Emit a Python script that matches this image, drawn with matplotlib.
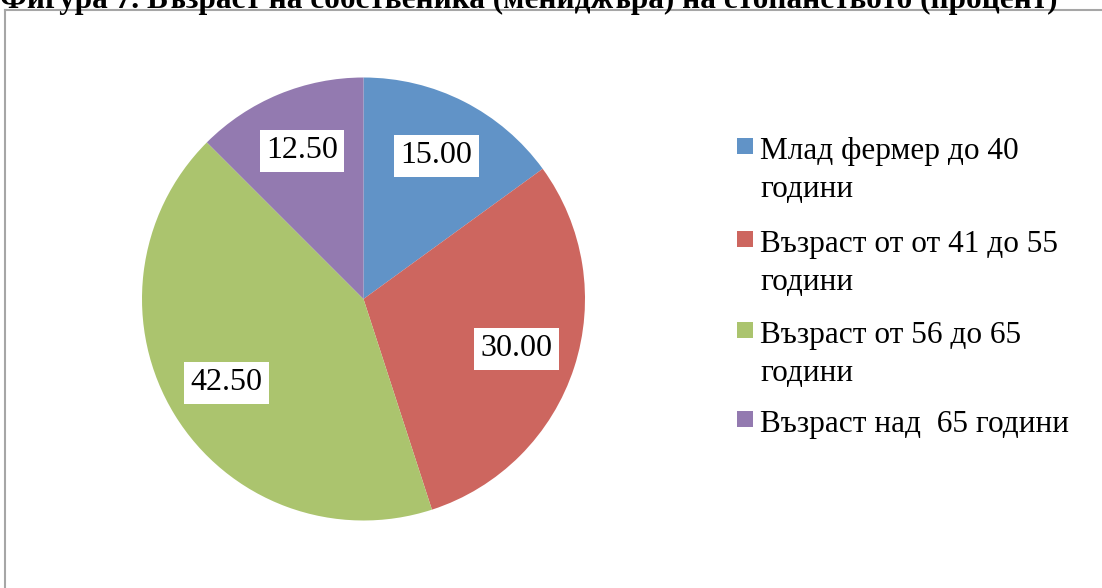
import matplotlib
matplotlib.use("Agg")
import matplotlib.pyplot as plt
from matplotlib.patches import Rectangle
from matplotlib.lines import Line2D

# ---- data ----
title = "Фигура 7. Възраст на собственика (мениджъра) на стопанството (процент)"
categories = [
    "Млад фермер до 40\nгодини",
    "Възраст от от 41 до 55\nгодини",
    "Възраст от 56 до 65\nгодини",
    "Възраст над  65 години",
]
values = [15.00, 30.00, 42.50, 12.50]
colors = ["#6193C7", "#CD665F", "#ABC46E", "#937AB0"]

W, H = 1102, 588
DPI = 100
plt.rcParams["font.family"] = ["Liberation Serif", "DejaVu Serif"]

fig = plt.figure(figsize=(W / DPI, H / DPI), dpi=DPI)
fig.patch.set_facecolor("white")

def fx(px):
    return px / W

def fy(py_top):
    return 1 - py_top / H

# frame (left and top edges visible)
fig.add_artist(Line2D([fx(5), fx(5)], [fy(10), 0], transform=fig.transFigure,
                      color="#A6A6A6", lw=1.5))
fig.add_artist(Line2D([fx(5), 1.01], [fy(10), fy(10)], transform=fig.transFigure,
                      color="#A6A6A6", lw=1.5))

# title, cut by the top edge
fig.text(fx(529), fy(8), title, ha="center", va="baseline", fontsize=22.5,
         fontweight="bold", color="black")

# pie
cx, cy, R = 363.5, 299, 221.5
ax = fig.add_axes([fx(cx - R), fy(cy + R), (2 * R) / W, (2 * R) / H])
wedges, texts, autotexts = ax.pie(
    values, colors=colors, startangle=90, counterclock=False,
    autopct=lambda p: f"{p:.2f}", pctdistance=0.725,
    wedgeprops=dict(linewidth=0),
    textprops=dict(fontsize=23, color="black"),
)
for t in autotexts:
    t.set_bbox(dict(boxstyle="square,pad=0.2", facecolor="white", edgecolor="none"))
ax.set_xlim(-1, 1)
ax.set_ylim(-1, 1)
ax.set_aspect("equal")
ax.axis("off")

# legend (manual)
baselines = [159, 252, 343, 432]
for cat, col, bl in zip(categories, colors, baselines):
    fig.add_artist(Rectangle((fx(737), fy(bl - 5)), 16 / W, 16 / H,
                             transform=fig.transFigure, facecolor=col,
                             edgecolor="none"))
    lines = cat.split("\n")
    for i, ln in enumerate(lines):
        fig.text(fx(760), fy(bl + i * 38), ln, ha="left", va="baseline",
                 fontsize=22.5, color="black")

fig.savefig("out.png", dpi=DPI)
